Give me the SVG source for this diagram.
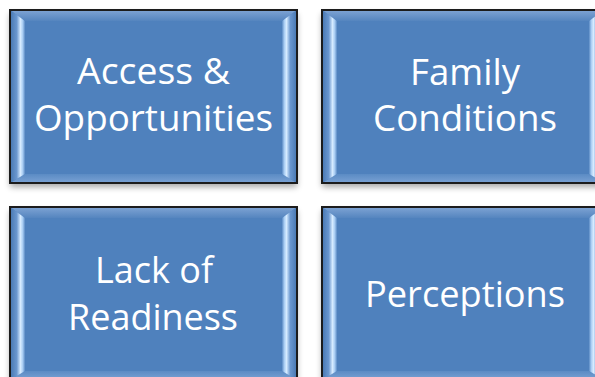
<svg xmlns="http://www.w3.org/2000/svg" width="595" height="377" viewBox="0 0 595 377">
  <defs>
    <filter id="drop" x="-10%" y="-10%" width="120%" height="125%">
      <feGaussianBlur in="SourceAlpha" stdDeviation="3"/>
      <feOffset dy="4" result="b"/>
      <feComponentTransfer><feFuncA type="linear" slope="0.35"/></feComponentTransfer>
    </filter>
    <linearGradient id="bevTop" x1="0" y1="0" x2="0" y2="1">
      <stop offset="0" stop-color="#7fa4d4"/>
      <stop offset="1" stop-color="#5585bf"/>
    </linearGradient>
    <linearGradient id="bevBottom" x1="0" y1="0" x2="0" y2="1">
      <stop offset="0" stop-color="#5b8bc4"/>
      <stop offset="1" stop-color="#7aa2d4"/>
    </linearGradient>
    <linearGradient id="bevLeft" x1="0" y1="0" x2="1" y2="0">
      <stop offset="0" stop-color="#4676b0"/>
      <stop offset="0.45" stop-color="#6a97cf"/>
      <stop offset="0.7" stop-color="#d6ebff"/>
      <stop offset="0.85" stop-color="#a9cdf3"/>
      <stop offset="1" stop-color="#5a8ac4"/>
    </linearGradient>
    <linearGradient id="bevRight" x1="1" y1="0" x2="0" y2="0">
      <stop offset="0" stop-color="#4676b0"/>
      <stop offset="0.45" stop-color="#6a97cf"/>
      <stop offset="0.7" stop-color="#d6ebff"/>
      <stop offset="0.85" stop-color="#a9cdf3"/>
      <stop offset="1" stop-color="#5a8ac4"/>
    </linearGradient>
  </defs>
  <style>
    .shadow { fill: #000; filter: url(#drop); }
    .face { fill: #4f81bd; }
    .edge { fill: none; stroke: #1c1c1c; stroke-width: 2; }
    .top { fill: url(#bevTop); }
    .bottom { fill: url(#bevBottom); }
    .left { fill: url(#bevLeft); }
    .right { fill: url(#bevRight); }
    .label { fill: #ffffff; font-family: "Open Sans", "Liberation Sans", sans-serif; font-size: 37px; text-anchor: middle; font-variant-ligatures: none; }
  </style>
  <rect x="0" y="0" width="595" height="377" fill="#ffffff"/>

  <!-- top-left box -->
  <g id="access-opportunities">
    <rect class="shadow" x="10" y="10" width="287" height="173"/>
    <rect class="face" x="10" y="10" width="287" height="173"/>
    <polygon class="top" points="10,10 297,10 282,21 25,21"/>
    <polygon class="bottom" points="10,183 25,174 282,174 297,183"/>
    <polygon class="left" points="10,10 25,21 25,174 10,183"/>
    <polygon class="right" points="297,10 282,21 282,174 297,183"/>
    <rect class="edge" x="10" y="10" width="287" height="173"/>
    <text class="label" x="153.5" y="84" textLength="153" lengthAdjust="spacingAndGlyphs">Access &amp;</text>
    <text class="label" x="153.5" y="131" textLength="239" lengthAdjust="spacingAndGlyphs">Opportunities</text>
  </g>

  <!-- top-right box -->
  <g id="family-conditions">
    <rect class="shadow" x="322" y="10" width="282" height="173"/>
    <rect class="face" x="322" y="10" width="282" height="173"/>
    <polygon class="top" points="322,10 604,10 589,21 337,21"/>
    <polygon class="bottom" points="322,183 337,174 589,174 604,183"/>
    <polygon class="left" points="322,10 337,21 337,174 322,183"/>
    <polygon class="right" points="604,10 589,21 589,174 604,183"/>
    <rect class="edge" x="322" y="10" width="282" height="173"/>
    <text class="label" x="465" y="85" textLength="110" lengthAdjust="spacingAndGlyphs">Family</text>
    <text class="label" x="465" y="131" textLength="184" lengthAdjust="spacingAndGlyphs">Conditions</text>
  </g>

  <!-- bottom-left box -->
  <g id="lack-of-readiness">
    <rect class="shadow" x="10" y="207" width="287" height="173"/>
    <rect class="face" x="10" y="207" width="287" height="173"/>
    <polygon class="top" points="10,207 297,207 282,218 25,218"/>
    <polygon class="bottom" points="10,380 25,371 282,371 297,380"/>
    <polygon class="left" points="10,207 25,218 25,371 10,380"/>
    <polygon class="right" points="297,207 282,218 282,371 297,380"/>
    <rect class="edge" x="10" y="207" width="287" height="173"/>
    <text class="label" x="154" y="283" textLength="118" lengthAdjust="spacingAndGlyphs">Lack of</text>
    <text class="label" x="153" y="330" textLength="170" lengthAdjust="spacingAndGlyphs">Readiness</text>
  </g>

  <!-- bottom-right box -->
  <g id="perceptions">
    <rect class="shadow" x="322" y="207" width="282" height="173"/>
    <rect class="face" x="322" y="207" width="282" height="173"/>
    <polygon class="top" points="322,207 604,207 589,218 337,218"/>
    <polygon class="bottom" points="322,380 337,371 589,371 604,380"/>
    <polygon class="left" points="322,207 337,218 337,371 322,380"/>
    <polygon class="right" points="604,207 589,218 589,371 604,380"/>
    <rect class="edge" x="322" y="207" width="282" height="173"/>
    <text class="label" x="465" y="307" textLength="200" lengthAdjust="spacingAndGlyphs">Perceptions</text>
  </g>

  <g id="connectors"/>
</svg>
